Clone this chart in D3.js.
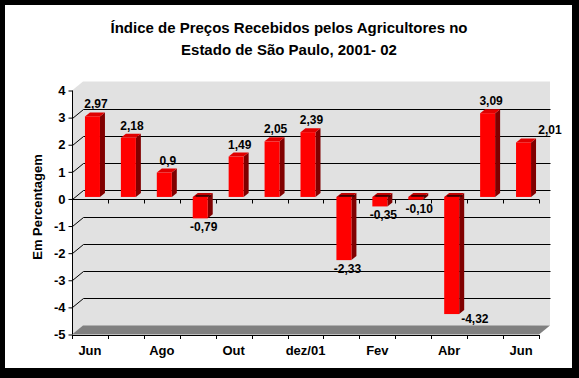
<!DOCTYPE html>
<html><head><meta charset="utf-8">
<script src="https://cdn.jsdelivr.net/npm/d3@7/dist/d3.min.js"></script>
<style>html,body{margin:0;padding:0;background:#000;}svg{display:block;}</style>
</head><body>
<svg id="c" width="579" height="378"></svg>
<script>
const categories = ["Jun","Jul","Ago","Set","Out","Nov","dez/01","Jan","Fev","Mar","Abr","Mai","Jun "];
const axisLabels = ["Jun","","Ago","","Out","","dez/01","","Fev","","Abr","","Jun"];
const values = [2.97, 2.18, 0.9, -0.79, 1.49, 2.05, 2.39, -2.33, -0.35, -0.10, -4.32, 3.09, 2.01];
const valueLabels = ["2,97","2,18","0,9","-0,79","1,49","2,05","2,39","-2,33","-0,35","-0,10","-4,32","3,09","2,01"];
const yTicks = [4,3,2,1,0,-1,-2,-3,-4,-5];
const titleLines = ["Índice de Preços Recebidos pelos Agricultores no","Estado de São Paulo, 2001- 02"];
const yTitle = "Em Percentagem";

const svg = d3.select("#c");
const FONT = "'Liberation Sans', Arial, sans-serif";
svg.append("rect").attr("x",5).attr("y",5).attr("width",567).attr("height",363).attr("fill","#fff");

const x = d3.scaleBand().domain(d3.range(categories.length)).range([72,539]).padding(0);
const y = d3.scaleLinear().domain([-5,4]).range([334.5,90.5]);
const DX = 11, DY = -9;

// walls
const wall = "#e1e1e1";
svg.append("polygon").attr("fill",wall)
  .attr("points",[[72,y(4)],[72+DX,y(4)+DY],[539+DX,y(4)+DY],[539+DX,y(-5)+DY],[72,y(-5)]].map(p=>p.join(",")).join(" "));
// floor
svg.append("polygon").attr("fill","#808080")
  .attr("points",[[72,y(-5)],[72+DX,y(-5)+DY],[539+DX,y(-5)+DY],[539,y(-5)]].map(p=>p.join(",")).join(" "));
// gridlines
yTicks.filter(v=>v>-5 && v<4).forEach(v=>{
  svg.append("polyline").attr("fill","none").attr("stroke","#000").attr("stroke-width",1)
    .attr("points",[[72,y(v)],[72+DX,y(v)+DY],[539+DX,y(v)+DY]].map(p=>p.map(n=>Math.round(n)+0.5).join(",")).join(" "));
});

// y axis
const yAxis = d3.axisLeft(y).tickValues(yTicks).tickSize(4).tickPadding(3).tickFormat(d=>d);
const gy = svg.append("g").attr("transform","translate(72.5,0)").call(yAxis);
gy.selectAll("text").attr("font-family",FONT).attr("font-size",13).attr("font-weight","bold").attr("fill","#000");
gy.selectAll("line,path").attr("stroke","#000");
gy.select(".domain").attr("d",`M0,${y(4)}V${y(-5)}`);

// bottom axis
const xb = d3.scaleLinear().domain([0,categories.length]).range([72,539]);
const bt = svg.append("g");
bt.append("line").attr("x1",72).attr("x2",539).attr("y1",Math.round(y(-5))+0.5).attr("y2",Math.round(y(-5))+0.5).attr("stroke","#000");
d3.range(categories.length+1).forEach(i=>{
  bt.append("line").attr("x1",Math.round(xb(i))+0.5).attr("x2",Math.round(xb(i))+0.5)
    .attr("y1",Math.round(y(-5))).attr("y2",Math.round(y(-5))+4).attr("stroke","#000");
});
bt.selectAll("text.cat").data(axisLabels).join("text").attr("class","cat")
  .attr("x",(d,i)=>x(i)+x.bandwidth()/2).attr("y",y(-5)+20.5)
  .attr("text-anchor","middle").attr("font-family",FONT).attr("font-size",13).attr("font-weight","bold").text(d=>d);

// zero line
const z = Math.round(y(0))+0.5;
svg.append("line").attr("x1",72).attr("x2",539).attr("y1",z).attr("y2",z).attr("stroke","#000");
d3.range(categories.length+1).forEach(i=>{
  svg.append("line").attr("x1",Math.round(xb(i))+0.5).attr("x2",Math.round(xb(i))+0.5)
    .attr("y1",z).attr("y2",z+4).attr("stroke","#000");
});

// bars
const BX = 2, BY = -2, SDX = 5, SDY = -4;
const bars = svg.append("g");
values.forEach((v,i)=>{
  const cx = x(i)+x.bandwidth()/2;
  const l = cx-7+BX, r = cx+8+BX;
  const yt = Math.min(y(v),y(0))+BY, yb = Math.max(y(v),y(0))+BY;
  // side
  bars.append("polygon").attr("fill","#800000")
    .attr("points",[[r,yt],[r+SDX,yt+SDY],[r+SDX,yb+SDY],[r,yb]].map(p=>p.join(",")).join(" "));
  // top
  bars.append("polygon").attr("fill", v<0 ? "#c00000" : "#e00000")
    .attr("points",[[l,yt],[l+SDX,yt+SDY],[r+SDX,yt+SDY],[r,yt]].map(p=>p.join(",")).join(" "));
  if (v<0) bars.append("line").attr("x1",l+3).attr("x2",r+3).attr("y1",yt-1).attr("y2",yt-1).attr("stroke","#000").attr("stroke-width",1.2);
  // front
  bars.append("rect").attr("x",l).attr("y",yt).attr("width",r-l).attr("height",yb-yt).attr("fill","#ff0000");
});

// value labels
const lab = svg.append("g");
values.forEach((v,i)=>{
  const cx = x(i)+x.bandwidth()/2;
  let lx = cx+6, ly;
  if (v>=0) ly = y(v)-10; else ly = y(v)+11;
  let anchor = "middle";
  if (v<0 && y(v)+20 > y(-5)+DY) { lx = cx+12; ly = y(v)+7; anchor="start"; }
  if (i===categories.length-1) { lx = cx+29; ly = y(v)-10; }
  lab.append("text").attr("x",lx).attr("y",ly).attr("text-anchor",anchor)
    .attr("font-family",FONT).attr("font-size",12).attr("font-weight","bold").text(valueLabels[i]);
});

// titles
svg.selectAll("text.t").data(titleLines).join("text").attr("class","t")
  .attr("x",289).attr("y",(d,i)=>33+i*22).attr("text-anchor","middle")
  .attr("font-family",FONT).attr("font-size",15).attr("font-weight","bold").text(d=>d);
svg.append("text").attr("transform","translate(42,207) rotate(-90)").attr("text-anchor","middle")
  .attr("font-family",FONT).attr("font-size",13).attr("font-weight","bold").text(yTitle);
</script>
</body></html>
